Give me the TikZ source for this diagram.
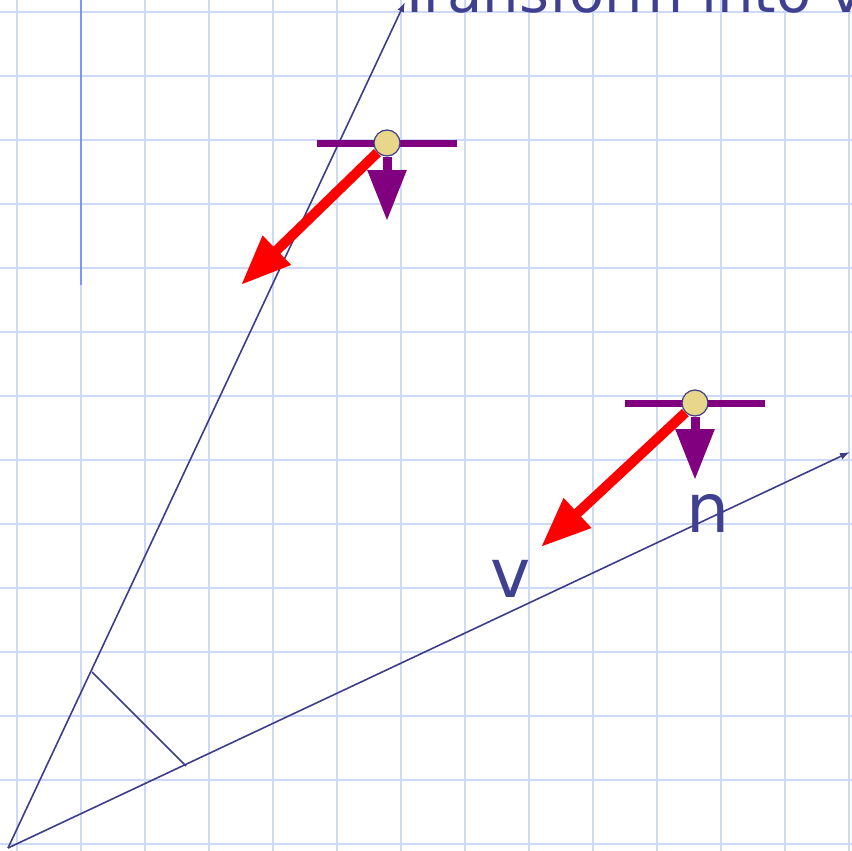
\documentclass[tikz,border=0pt]{standalone}
\usepackage{fontspec}
\setmainfont{DejaVu Sans}
\usetikzlibrary{arrows.meta}
\definecolor{gridc}{HTML}{CCDAF8}
\definecolor{axisc}{HTML}{3D3D8A}
\definecolor{bluel}{HTML}{7B96F5}
\definecolor{purp}{HTML}{800080}
\definecolor{beadc}{HTML}{E8D68A}
\definecolor{textc}{HTML}{404090}
\begin{document}
\begin{tikzpicture}[x=1pt,y=-1pt,
  gridline/.style={draw=gridc,line width=1.9pt},
  axisline/.style={draw=axisc,line width=1.6pt},
  axis/.style={axisline,-{Latex[length=10pt,width=7pt]}},
  bar/.style={draw=purp,line width=7pt},
  bead/.style={circle,draw=axisc,line width=1.2pt,fill=beadc,minimum size=26pt,inner sep=0pt},
  normalv/.style={draw=purp,line width=9pt,-{Triangle[length=51pt,width=37pt]}},
  viewv/.style={draw=red,line width=10pt,-{Triangle[length=50pt,width=38pt]}},
  lbl/.style={text=textc,font=\fontsize{68}{80}\selectfont,inner sep=0pt},
  ttl/.style={text=textc,font=\fontsize{57.5}{70}\selectfont,inner sep=0pt}
]
\clip (0,0) rectangle (852,851);
\fill[white] (0,0) rectangle (852,851);
\foreach \i in {0,...,13} {
  \draw[gridline] (17+64*\i,0) -- (17+64*\i,851);
  \draw[gridline] (0,12+64*\i) -- (852,12+64*\i);
}
\coordinate (L1) at (81,0);
\coordinate (L2) at (81,285);
\draw[bluel,line width=2.5pt] (L1) -- (L2);
% axes
\coordinate (O) at (8,848);
\coordinate (A) at (405,2);
\coordinate (B) at (850,452);
\draw[axis] (O) -- (A);
\draw[axis] (O) -- (B);
\coordinate (N1) at (92,672);
\coordinate (N2) at (186,766);
\draw[axisline] (N1) -- (N2);
% title
\node[ttl,anchor=base west] (title) at (397,13) {Transform into v};
% group 1
\coordinate (b1l) at (317,143);
\coordinate (b1r) at (457,143);
\draw[bar] (b1l) -- (b1r);
\node[bead] (p1) at (387,143) {};
\coordinate (n1t) at (387,221);
\draw[normalv] (p1.south) -- (n1t);
\coordinate (v1t) at (241,285);
\draw[viewv] (p1.225) -- (v1t);
% group 2
\coordinate (b2l) at (625,403);
\coordinate (b2r) at (765,403);
\draw[bar] (b2l) -- (b2r);
\node[bead] (p2) at (695,403) {};
\coordinate (n2t) at (695,480);
\draw[normalv] (p2.south) -- (n2t);
\coordinate (v2t) at (541,547);
\draw[viewv] (p2.225) -- (v2t);
% labels
\node[lbl,anchor=base west] (nlab) at (686,532) {n};
\node[lbl,anchor=base west] (vlab) at (490,597) {v};
\end{tikzpicture}
\end{document}
